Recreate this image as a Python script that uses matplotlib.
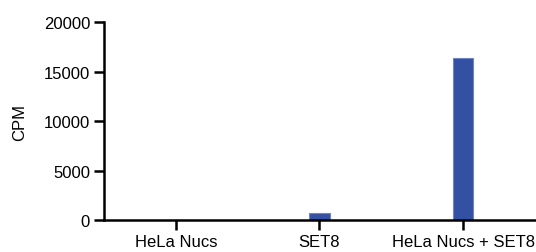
import matplotlib.pyplot as plt
import numpy as np

plt.rcParams['font.family'] = ['Liberation Sans', 'DejaVu Sans']

categories = ["HeLa Nucs", "SET8", "HeLa Nucs + SET8"]
cpm = [0, 680, 16400]

fig = plt.figure(figsize=(5.36, 2.53), dpi=100)
ax = fig.add_axes([0.194, 0.126, 0.804, 0.783])

x = np.arange(len(categories))
ax.bar(x, cpm, width=0.14, color='#3450a2', edgecolor='#7085c6', linewidth=0.8)

ax.set_xlim(-0.5, 2.5)
ax.set_ylim(0, 20000)
ax.set_yticks([0, 5000, 10000, 15000, 20000])
ax.set_xticks(x)
ax.set_xticklabels(categories)
ax.set_ylabel("CPM", fontsize=12, labelpad=12)

for s in ['top', 'right']:
    ax.spines[s].set_visible(False)
for s in ['left', 'bottom']:
    ax.spines[s].set_linewidth(1.8)
ax.tick_params(axis='both', length=7, width=1.8, labelsize=12, pad=3)

fig.savefig("out.png", dpi=100)
